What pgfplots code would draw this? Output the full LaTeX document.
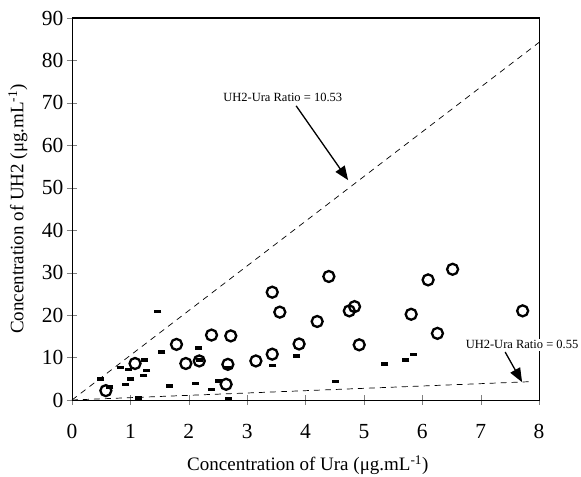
\documentclass[border=0pt]{standalone}
\usepackage{fontspec}
\setmainfont{Liberation Serif}
\usepackage{pgfplots}
\pgfplotsset{compat=1.18}
\usetikzlibrary{arrows.meta}

% UH2 vs Ura scatter, two ratio lines
\pgfplotstableread{
x y
0.58 2.2
1.08 8.6
1.79 13.1
1.95 8.6
2.18 9.2
2.39 15.3
2.72 15.1
2.67 8.4
2.64 3.7
3.15 9.2
3.43 25.4
3.56 20.7
3.43 10.8
3.89 13.2
4.40 29.1
4.75 21.0
4.84 22.0
4.20 18.5
4.92 13.0
6.10 28.3
6.52 30.8
5.81 20.2
6.26 15.7
7.72 21.0
}\circles

\pgfplotstableread{
x y
0.49 4.9
0.65 3.1
0.83 7.7
0.97 7.2
0.92 3.7
1.01 4.9
1.23 5.8
1.28 6.9
1.24 9.4
1.14 0.5
1.47 20.9
1.54 11.3
1.67 3.3
2.11 3.9
2.17 12.2
2.18 9.4
2.39 2.5
2.51 4.5
2.67 7.7
2.68 0.4
3.44 8.1
3.85 10.4
4.51 4.3
5.36 8.5
5.72 9.4
5.85 10.7
}\bars

\begin{document}
\begin{tikzpicture}
\begin{axis}[
scale only axis,
width=467pt,height=382pt,
xmin=0,xmax=8,ymin=0,ymax=90,
xtick={0,1,...,8},
ytick={0,10,...,90},
xtick pos=left,ytick pos=left,
tick align=center,
major tick length=10pt,
/pgf/number format/assume math mode=true,
ticklabel style={font=\fontsize{21.5}{23}\selectfont},
xticklabel style={yshift=-16pt},
label style={font=\fontsize{19}{22}\selectfont},
xlabel={Concentration of Ura (μg.mL\textsuperscript{-1})},
ylabel={Concentration of UH2 (μg.mL\textsuperscript{-1})},
xlabel style={at={(axis description cs:0.505,-0.17)},anchor=center},
ylabel style={at={(axis description cs:-0.1156,0.5)},anchor=center},
clip=false
]
\addplot[black,line width=0.7pt,dash pattern=on 6pt off 5pt] coordinates {(0,0)(8,84.24)};
\addplot[black,line width=0.7pt,dash pattern=on 6pt off 5pt] coordinates {(0,0)(7.9,4.345)};
\addplot[only marks,mark=-,mark size=3.5pt,mark options={black,line width=3.5pt}] table {\bars};
\addplot[only marks,mark=o,mark size=5.5pt,mark options={black,line width=2.3pt}] table {\circles};
\node[font=\fontsize{12.5}{14}\selectfont] at (axis cs:3.61,71.4) {UH2-Ura Ratio = 10.53};
\draw[line width=1.3pt,-{Triangle[length=14pt,width=11pt]}] (axis cs:3.84,69.3) -- (axis cs:4.73,51.8);
\coordinate (lab2) at (axis cs:7.71,13.0);
\draw[line width=1.3pt,-{Triangle[length=14pt,width=11pt]}] (axis cs:7.42,11.3) -- (axis cs:7.71,4.2);
\end{axis}
\draw[line width=1pt] (current axis.north west) -- (current axis.north east) -- (current axis.south east);
\node[font=\fontsize{12.5}{14}\selectfont,fill=white,inner sep=2pt] at (lab2) {UH2-Ura Ratio = 0.55};
\pgfresetboundingbox
\path ([xshift=-72pt,yshift=-77pt]current axis.south west) rectangle ([xshift=42pt,yshift=18pt]current axis.north east);
\end{tikzpicture}
\end{document}
